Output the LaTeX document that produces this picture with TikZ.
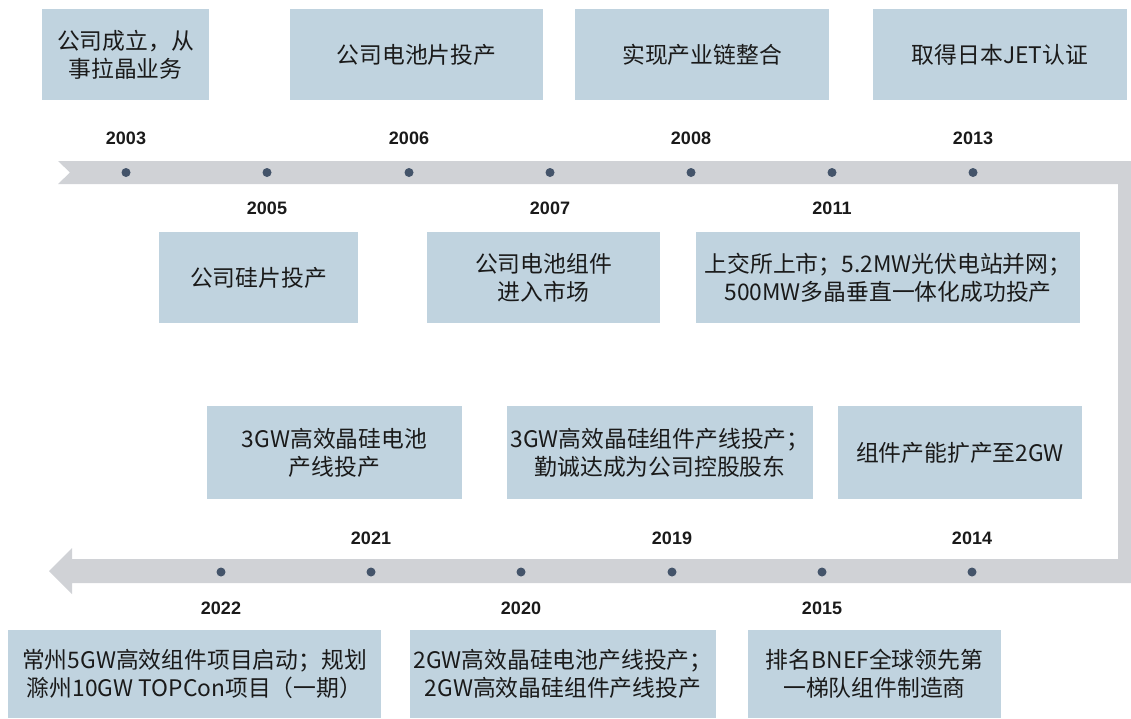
\documentclass[tikz,border=0pt]{standalone}
\usepackage{fontspec}
\setmainfont{Liberation Sans}
\newfontfamily\cjk{Noto Sans CJK SC}
\definecolor{boxfill}{HTML}{C0D3DF}
\definecolor{band}{HTML}{D0D2D6}
\definecolor{dotc}{HTML}{44546A}
\definecolor{txt}{HTML}{1A1A1A}
\tikzset{
  evbox/.style={fill=boxfill, draw=none, inner sep=0pt, align=center, text=txt,
    font=\cjk\fontsize{22.8}{28}\selectfont},
  yr/.style={inner sep=0pt, text=txt, font=\bfseries\fontsize{18}{20}\selectfont},
  tdot/.style={circle, fill=dotc, inner sep=0pt, minimum size=9pt}
}
\begin{document}
\begin{tikzpicture}[x=1pt,y=-1pt]
\useasboundingbox (0,0) rectangle (1131,718);
% timeline band
\fill[band] (58,161) -- (1131,161) -- (1131,583) -- (72,583) -- (72,594) -- (49,571)
  -- (72,548) -- (72,559) -- (1118,559) -- (1118,184) -- (58,184) -- (70,172.5) -- cycle;
% top row dots
\foreach \n/\x in {d1/126,d2/267,d3/409,d4/550,d5/691,d6/832,d7/973}
  \node[tdot] (\n) at (\x,172.5) {};
% bottom row dots
\foreach \n/\x in {e1/221,e2/371,e3/521,e4/672,e5/822,e6/972}
  \node[tdot] (\n) at (\x,572) {};
% years
\node[yr] (y2003) at (126,138) {2003};
\node[yr] (y2006) at (409,138) {2006};
\node[yr] (y2008) at (691,138) {2008};
\node[yr] (y2013) at (973,138) {2013};
\node[yr] (y2005) at (267,208) {2005};
\node[yr] (y2007) at (550,208) {2007};
\node[yr] (y2011) at (832,208) {2011};
\node[yr] (y2021) at (371,538) {2021};
\node[yr] (y2019) at (672,538) {2019};
\node[yr] (y2014) at (972,538) {2014};
\node[yr] (y2022) at (221,608) {2022};
\node[yr] (y2020) at (521,608) {2020};
\node[yr] (y2015) at (822,608) {2015};
% boxes
\node[evbox, minimum width=167pt, minimum height=91pt] (b1) at (125.5,54.5) {公司成立，从\\事拉晶业务};
\node[evbox, minimum width=253pt, minimum height=91pt] (b2) at (416.5,54.5) {公司电池片投产};
\node[evbox, minimum width=254pt, minimum height=91pt] (b3) at (702,54.5) {实现产业链整合};
\node[evbox, minimum width=254pt, minimum height=91pt] (b4) at (1000,54.5) {取得日本JET认证};
\node[evbox, minimum width=199pt, minimum height=91pt] (b5) at (258.5,277.5) {公司硅片投产};
\node[evbox, minimum width=233pt, minimum height=91pt] (b6) at (543.5,277.5) {公司电池组件\\进入市场};
\node[evbox, minimum width=384pt, minimum height=91pt] (b7) at (888,277.5) {上交所上市；5.2MW光伏电站并网；\\500MW多晶垂直一体化成功投产};
\node[evbox, minimum width=255pt, minimum height=93pt] (b8) at (334.5,452.5) {3GW高效晶硅电池\\产线投产};
\node[evbox, minimum width=306pt, minimum height=93pt] (b9) at (660,452.5) {3GW高效晶硅组件产线投产；\\勤诚达成为公司控股股东};
\node[evbox, minimum width=244pt, minimum height=93pt] (b10) at (960,452.5) {组件产能扩产至2GW};
\node[evbox, minimum width=373pt, minimum height=88pt] (b11) at (194.5,674) {常州5GW高效组件项目启动；规划\\滁州10GW TOPCon项目（一期）};
\node[evbox, minimum width=306pt, minimum height=88pt] (b12) at (563,674) {2GW高效晶硅电池产线投产；\\2GW高效晶硅组件产线投产};
\node[evbox, minimum width=253pt, minimum height=88pt] (b13) at (874.5,674) {排名BNEF全球领先第\\一梯队组件制造商};
\end{tikzpicture}
\end{document}
